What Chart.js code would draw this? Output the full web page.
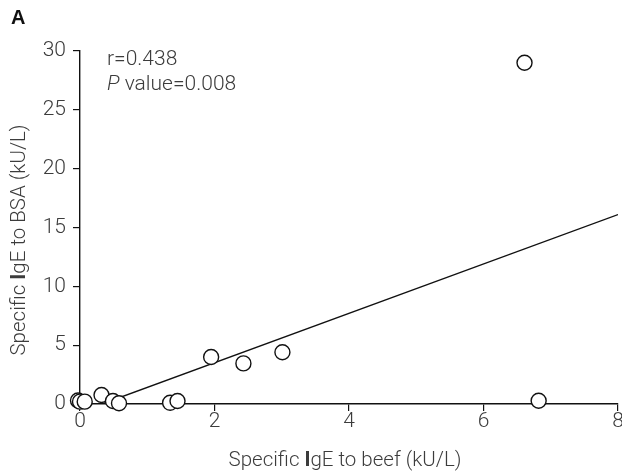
<!DOCTYPE html>
<html>
<head>
<meta charset="utf-8">
<script src="https://cdn.jsdelivr.net/npm/chart.js@4.4.0/dist/chart.umd.min.js"></script>
<style>
html,body{margin:0;padding:0;background:#fff;overflow:hidden;}
#wrap{width:622px;height:473px;position:relative;overflow:hidden;}
</style>
</head>
<body>
<div id="wrap"><canvas id="c" width="622" height="473"></canvas></div>
<script>
// Data
const beefIgE = [-0.03, 0.00, 0.07, 0.32, 0.49, 0.58, 1.34, 1.45, 1.95, 2.43, 3.01, 6.61, 6.82];
const bsaIgE  = [0.30, 0.20, 0.20, 0.76, 0.25, 0.06, 0.10, 0.25, 4.00, 3.45, 4.40, 29.00, 0.28];
const fitX = [0.33, 8];
const fitY = [0.0, 16.1];
const xTicks = [0, 2, 4, 6, 8];
const yTicks = [0, 5, 10, 15, 20, 25, 30];
const panelLabel = 'A';
const statR = 'r=0.438';
const statP = ['P', ' value=0.008'];
const xTitle = ['Specific ', 'I', 'gE to beef (kU/L)'];
const yTitle = ['Specific ', 'I', 'gE to BSA (kU/L)'];

const FONT = 'Roboto, "Liberation Sans", sans-serif';
const TEXT = '#3c3c3c';
const FS = 21;      // tick labels / stats
const FT = 20.5;    // axis titles

const points = beefIgE.map((x, i) => ({x, y: bsaIgE[i]}));
const fitLine = fitX.map((x, i) => ({x, y: fitY[i]}));

function drawSegs(ctx, segs, styles, cx, cy) {
  let total = 0;
  const widths = segs.map((s, i) => { ctx.font = styles[i]; const w = ctx.measureText(s).width; total += w; return w; });
  let x = cx - total / 2;
  segs.forEach((s, i) => { ctx.font = styles[i]; ctx.fillText(s, x, cy); x += widths[i]; });
}

const annot = {
  id: 'annot',
  afterDraw(chart) {
    const ctx = chart.ctx;
    const xs = chart.scales.x;
    ctx.save();
    ctx.textBaseline = 'middle';
    ctx.fillStyle = TEXT;
    const reg = '300 ' + FS + 'px ' + FONT;
    // x tick labels, placed through the x scale
    ctx.textAlign = 'center';
    ctx.font = reg;
    xs.ticks.forEach(t => {
      ctx.fillText(String(t.value), xs.getPixelForValue(t.value), xs.top + 18);
    });
    ctx.textAlign = 'left';
    ctx.fillStyle = '#111';
    ctx.font = 'bold 20px "Liberation Sans", sans-serif';
    ctx.fillText(panelLabel, 11, 18);
    ctx.fillStyle = TEXT;
    const ital = 'italic 300 ' + FS + 'px ' + FONT;
    ctx.font = reg;
    ctx.fillText(statR, 107, 60);
    ctx.font = ital;
    ctx.fillText(statP[0], 107, 85);
    const w = ctx.measureText(statP[0]).width;
    ctx.font = reg;
    ctx.fillText(statP[1], 107 + w, 85);
    const treg = '300 ' + FT + 'px ' + FONT;
    const tbold = '700 ' + FT + 'px ' + FONT;
    // x title
    drawSegs(ctx, xTitle, [treg, tbold, treg], 345, 461);
    // y title
    ctx.translate(20, 240);
    ctx.rotate(-Math.PI / 2);
    drawSegs(ctx, yTitle, [treg, tbold, treg], 0, 0);
    ctx.restore();
  }
};

new Chart(document.getElementById('c'), {
  type: 'scatter',
  data: {
    datasets: [
      {
        type: 'scatter',
        data: points,
        order: 0,
        pointRadius: 7.5,
        pointHoverRadius: 7.5,
        pointBackgroundColor: '#ffffff',
        pointBorderColor: '#111111',
        pointBorderWidth: 1.4,
        clip: false
      },
      {
        type: 'line',
        data: fitLine,
        order: 1,
        borderColor: '#111111',
        borderWidth: 1.4,
        pointRadius: 0,
        fill: false,
        tension: 0
      }
    ]
  },
  plugins: [annot],
  options: {
    responsive: false,
    animation: false,
    events: [],
    layout: {autoPadding: false, padding: {left: 0, right: 4, top: 51, bottom: 0}},
    plugins: {legend: {display: false}, tooltip: {enabled: false}},
    scales: {
      x: {
        type: 'linear',
        min: 0, max: 8,
        afterBuildTicks: s => { s.ticks = xTicks.map(v => ({value: v})); },
        afterFit: s => { s.height = 69; },
        border: {display: true, color: '#111', width: 1.4},
        grid: {display: true, drawOnChartArea: false, drawTicks: true, tickLength: 7, color: '#111', lineWidth: 1.2},
        ticks: {display: false},
        title: {display: false}
      },
      y: {
        type: 'linear',
        min: 0, max: 30,
        afterBuildTicks: s => { s.ticks = yTicks.map(v => ({value: v})); },
        afterFit: s => { s.width = 80; s.paddingTop = 0; s.paddingBottom = 0; },
        border: {display: true, color: '#111', width: 1.4},
        grid: {display: true, drawOnChartArea: false, drawTicks: true, tickLength: 7, color: '#111', lineWidth: 1.2},
        ticks: {color: TEXT, font: {family: FONT, size: FS, weight: 300}, padding: 7, autoSkip: false},
        title: {display: false}
      }
    }
  }
});
</script>
</body>
</html>
